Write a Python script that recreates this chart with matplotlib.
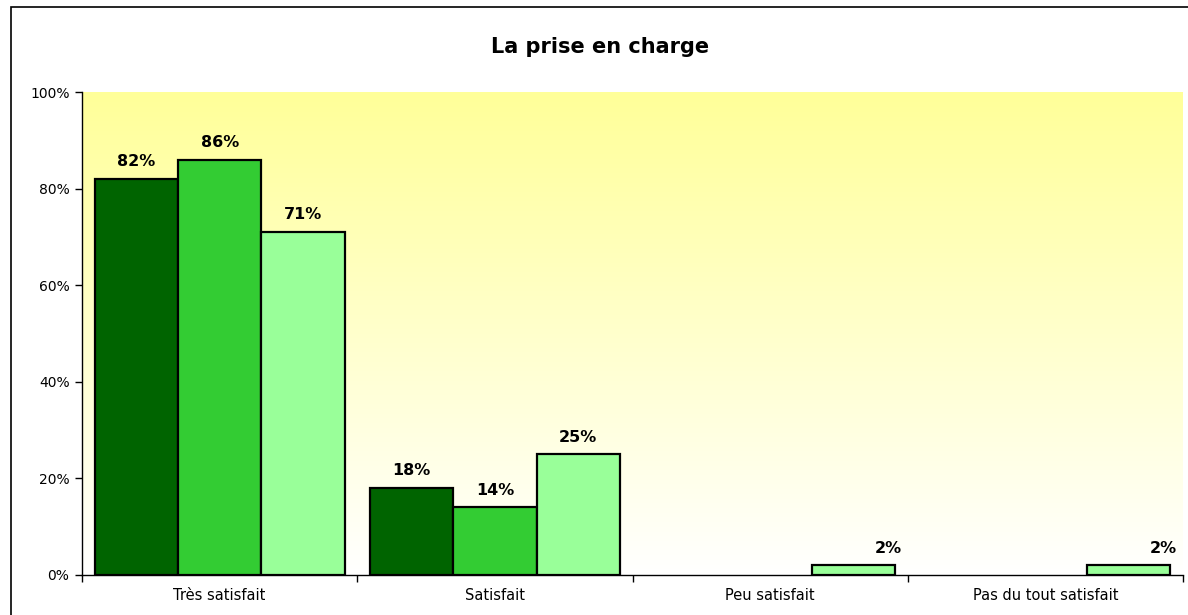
import matplotlib
matplotlib.use("Agg")
import matplotlib.pyplot as plt
import numpy as np
from matplotlib.colors import LinearSegmentedColormap
from matplotlib.patches import Rectangle

categories = ["Très satisfait", "Satisfait", "Peu satisfait", "Pas du tout satisfait"]
serie_1 = [82, 18, 0, 0]
serie_2 = [86, 14, 0, 0]
serie_3 = [71, 25, 2, 2]
series = [serie_1, serie_2, serie_3]
colours = ["#006400", "#33CC33", "#99FF99"]

plt.rcParams['font.family'] = ['DejaVu Sans']

fig = plt.figure(figsize=(11.88, 6.15), dpi=100)
ax = fig.add_axes([82/1188, 1 - 575/615, 1101/1188, 483/615])

# frame around the chart
fig.patches.append(Rectangle((11/1188, -0.05), 1.1, 1 - 7/615 + 0.05,
                             transform=fig.transFigure, fill=False,
                             edgecolor="black", linewidth=1.2))

# yellow to white background
cmap = LinearSegmentedColormap.from_list("bg", ["#FFFFFF", "#FFFF99"])
grad = np.linspace(0, 1, 256).reshape(-1, 1)
ax.imshow(grad, cmap=cmap, origin="lower", aspect="auto",
          extent=[-0.5, len(categories) - 0.5, 0, 100], zorder=0)

x = np.arange(len(categories))
width = 1 / 3.3
for i, (vals, col) in enumerate(zip(series, colours)):
    pos = x + (i - 1) * width
    vals = np.array(vals)
    keep = vals > 0
    ax.bar(pos[keep], vals[keep], width, color=col, edgecolor="black",
           linewidth=1.6, zorder=2)
    for px, v in zip(pos[keep], vals[keep]):
        dx = 25 if v < 5 else 0
        ax.annotate(f"{v}%", (px, v), xytext=(dx, 7), textcoords="offset points",
                    ha="center", va="bottom", fontsize=11.5, fontweight="bold")

ax.set_xlim(-0.5, len(categories) - 0.5)
ax.set_ylim(0, 100)
ax.set_yticks(range(0, 101, 20))
ax.set_yticklabels([f"{t}%" for t in range(0, 101, 20)], fontsize=10)
ax.set_xticks(x)
ax.set_xticklabels(categories, fontsize=10.5)
ax.set_xticks(np.arange(-0.5, len(categories)), minor=True)
ax.tick_params(axis="x", which="major", length=0, pad=9)
ax.tick_params(axis="x", which="minor", length=5, width=1)
ax.tick_params(axis="y", length=5, width=1, pad=4)

for s in ["top", "right"]:
    ax.spines[s].set_visible(False)
ax.spines["left"].set_linewidth(1)
ax.spines["bottom"].set_linewidth(1)

fig.text(0.505, 1 - 47/615, "La prise en charge", ha="center", va="center",
         fontsize=15, fontweight="bold")

fig.savefig("out.png", dpi=100)
